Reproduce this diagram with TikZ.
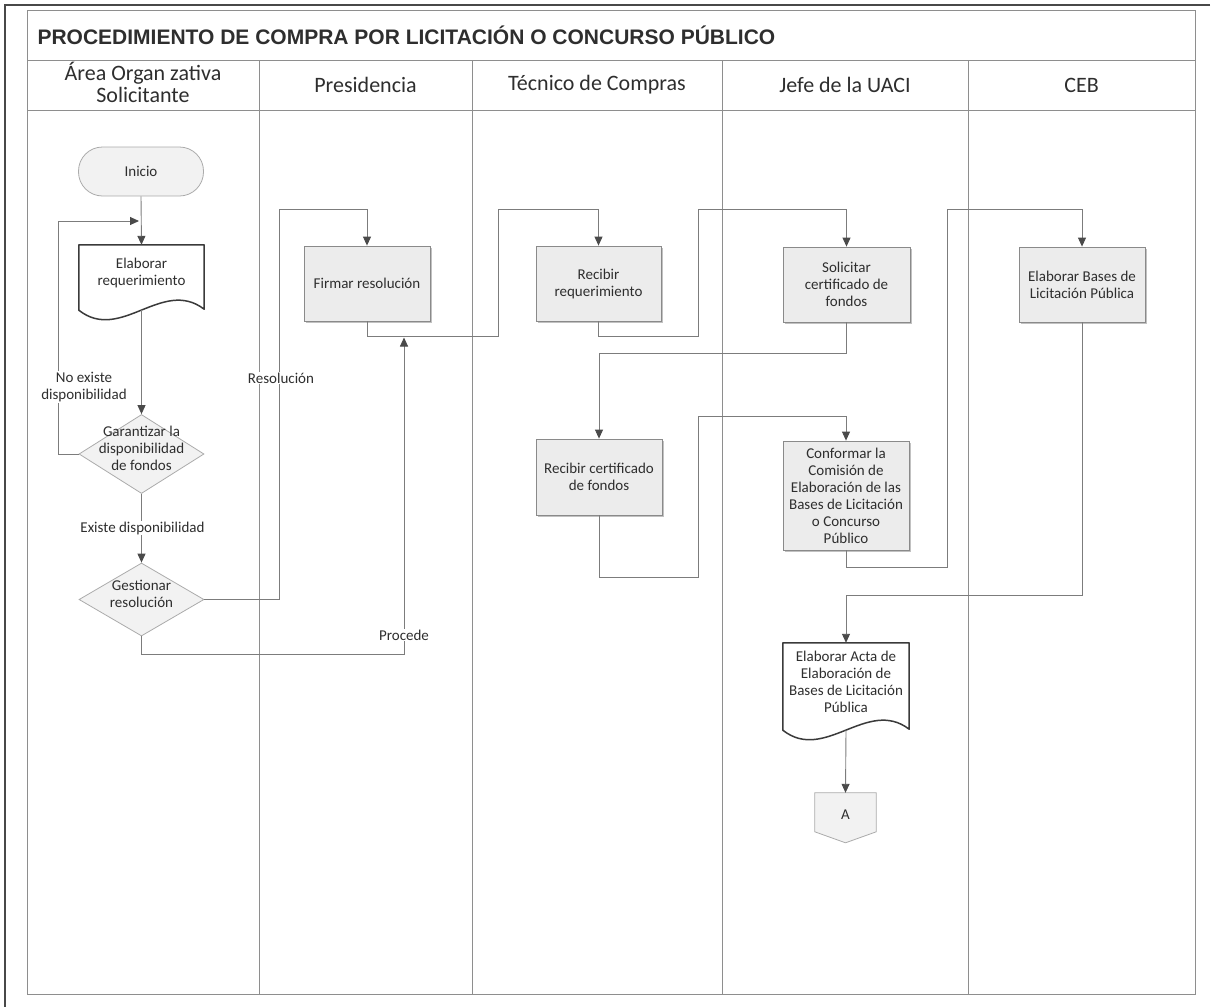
\documentclass[tikz,border=0pt]{standalone}
\usepackage{fontspec}
\setmainfont{Carlito}
\newfontfamily\titlefont{Liberation Sans}
\usetikzlibrary{arrows.meta,shapes.geometric,calc,shadows,backgrounds}

\definecolor{lanegray}{HTML}{8E8E8E}
\definecolor{linegray}{HTML}{7C7C7C}
\definecolor{arrowgray}{HTML}{4A4A4A}
\definecolor{boxfill}{HTML}{ECECEC}
\definecolor{boxline}{HTML}{8A8A8A}
\definecolor{softfill}{HTML}{F2F2F2}
\definecolor{softline}{HTML}{ABABAB}
\definecolor{docline}{HTML}{3A3A3A}
\definecolor{inkgray}{HTML}{2E2E2E}
\definecolor{pagerule}{HTML}{484848}

% zero-size text block, so a shape keeps its own minimum size
\newcommand\zbox[1]{\smash{\makebox[0pt]{\begin{tabular}[c]{@{}c@{}}#1\end{tabular}}}}

% outline of a document symbol drawn round node #1 (wavy lower edge)
\newcommand\docoutline[1]{%
  \draw[docline, line width=1.5pt, line join=round]
    (#1.north west) -- (#1.north east) -- ($(#1.south east)+(0,9)$)
    .. controls ($(#1.south east)+(-42,-23)$) and ($(#1.south west)+(42,43)$)
    .. ($(#1.south west)+(0,10)$) -- cycle;
  \coordinate (#1-b) at ($(#1.south)+(0,10)$);}

\tikzset{
  x=1pt, y=-1pt,
  lane/.style={draw=lanegray, line width=1pt},
  flow/.style={draw=linegray, line width=0.9pt,
    -{Triangle[width=8pt,length=9pt,color=arrowgray]}},
  link/.style={draw=linegray, line width=0.9pt},
  nodetext/.style={font=\fontsize{15}{17}\selectfont, text=inkgray, align=center},
  taskbox/.style={nodetext, rectangle, draw=boxline, fill=boxfill, line width=0.8pt,
    inner sep=2pt,
    drop shadow={shadow xshift=1.5pt, shadow yshift=-1.8pt, fill=black!35, opacity=0.7}},
  docbox/.style={nodetext, rectangle, inner sep=2pt},
  decision/.style={nodetext, diamond, draw=softline, fill=softfill, line width=0.8pt,
    inner sep=0pt},
  terminal/.style={nodetext, rectangle, rounded corners=24pt, draw=softline,
    fill=softfill, line width=0.8pt},
  lbl/.style={nodetext, fill=white, inner sep=1pt},
  lanehead/.style={font=\fontsize{22}{22}\selectfont, text=inkgray, align=center},
}

\begin{document}
\begin{tikzpicture}
\useasboundingbox (0,0) rectangle (1215,1007);

% page rules
\draw[pagerule, line width=2.6pt] (1210,5) -- (5,5) -- (5,1007);

% swimlane frame
\draw[lane] (27,10) rectangle (1195,994);
\draw[lane] (27,60) -- (1195,60);
\draw[lane] (27,110) -- (1195,110);
\foreach \x in {259,472,722,968} \draw[lane] (\x,60) -- (\x,994);

% title and lane headers
\node[anchor=west, text=inkgray, font=\titlefont\bfseries\fontsize{21}{24}\selectfont]
  (title) at (34,35) {PROCEDIMIENTO DE COMPRA POR LICITACIÓN O CONCURSO PÚBLICO};
\node[lanehead, font=\fontsize{22}{22}\selectfont] (h1) at (143,82) {Área Organ zativa\\Solicitante};
\node[lanehead] (h2) at (365.5,85) {Presidencia};
\node[lanehead] (h3) at (597,85) {Técnico de Compras};
\node[lanehead] (h4) at (845,85) {Jefe de la UACI};
\node[lanehead] (h5) at (1081.5,85) {CEB};

% ---- process symbols ----
\node[terminal, minimum width=125pt, minimum height=49pt] (ini) at (141,171.5) {Inicio};

\node[docbox, minimum width=125pt, minimum height=55pt] (req) at (141.5,272.5)
  {Elaborar\\requerimiento};
\docoutline{req}

\node[decision, minimum width=125pt, minimum height=79pt] (g1) at (141.5,454)
  {\zbox{Garantizar la\\disponibilidad\\de fondos}};
\node[decision, minimum width=125pt, minimum height=73pt] (g2) at (141.5,599.5)
  {\zbox{Gestionar\\resolución}};

\node[taskbox, minimum width=126pt, minimum height=75pt] (fir) at (367,283.5)
  {Firmar resolución};
\node[taskbox, minimum width=125pt, minimum height=75pt] (rreq) at (598.5,283.5)
  {Recibir\\requerimiento};
\node[taskbox, minimum width=127pt, minimum height=75pt] (sol) at (846.5,284.5)
  {Solicitar\\certificado de\\fondos};
\node[taskbox, minimum width=126pt, minimum height=76pt] (rcert) at (599,477)
  {Recibir certificado\\de fondos};
\node[taskbox, minimum width=126pt, minimum height=109pt] (con) at (846,495.5)
  {Conformar la\\Comisión de\\Elaboración de las\\Bases de Licitación\\o Concurso\\Público};
\node[taskbox, minimum width=126pt, minimum height=75pt] (eb) at (1082,284.5)
  {Elaborar Bases de\\Licitación Pública};

\node[docbox, minimum width=126pt, minimum height=77pt] (acta) at (846,681.5)
  {Elaborar Acta de\\Elaboración de\\Bases de Licitación\\Pública};
\docoutline{acta}

% off-page connector
\node[nodetext, minimum width=61pt, minimum height=44pt, inner sep=0pt] (A) at (845.5,815) {A};
\begin{scope}[on background layer]
  \draw[draw=softline, fill=softfill, line width=0.8pt]
    (A.north west) -- (A.north east) -- ($(A.north east)+(0,39)$)
    -- ($(A.north)+(0,50)$) -- ($(A.north west)+(0,39)$) -- cycle;
\end{scope}

% ---- connectors ----
\draw[flow] (ini.south) -- (req.north);
\draw[flow] (req-b) -- (g1.north);
\draw[flow] (g1.west) -| (58,221) -- (139,221);
\node[lbl] (lno) at (84,387) {No existe\\disponibilidad};
\draw[flow] (g1.south) -- (g2.north);
\node[lbl] (lsi) at (142.5,528) {Existe disponibilidad};

\draw[flow] (g2.east) -| (279,209) -| (fir.north);
\node[lbl] (lres) at (281,378) {Resolución};

\draw[flow] (g2.south) |- (404,654) -- (404,337.5);
\node[lbl] (lpro) at (404,635) {Procede};

\draw[flow] (fir.south) -- ++(0,15) -| (498,209) -| (rreq.north);
\draw[flow] (rreq.south) -- ++(0,15) -| (698,209) -| (sol.north);
\draw[flow] (sol.south) -- ++(0,31) -| (rcert.north);
\draw[flow] (rcert.south) -- ++(0,62) -| (698,416) -| (con.north);
\draw[flow] (con.south) -- ++(0,17) -| (947,209) -| (eb.north);
\draw[flow] (eb.south) -- ++(0,273) -| (acta.north);
\draw[flow] (acta-b) -- (A.north);
\end{tikzpicture}
\end{document}
